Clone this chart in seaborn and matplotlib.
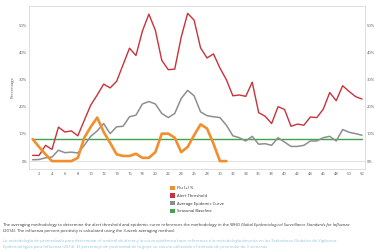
import matplotlib
matplotlib.use("Agg")
import matplotlib.pyplot as plt
import seaborn as sns
import numpy as np
import pandas as pd
from matplotlib.patches import Patch

sns.set_style("white")
plt.rcParams["font.family"] = ["Open Sans", "DejaVu Sans"]

# Werte (in %) pro Kalenderwoche
weeks = list(range(1, 53))
flu_weeks = list(range(1, 32))
flu_pos = [8.1, 5.2, 2.5, 0, 0, 0, 0, 1.2, 8.6, 12.6, 16.0, 10.7, 6.7, 2.5, 1.9, 1.9,
           2.7, 1.2, 1.2, 3.3, 10.1, 10.1, 8.6, 3.3, 5.2, 9.5, 13.5, 12.0, 6.4, 0, 0]
alert = [2.1, 2.1, 5.8, 4.3, 12.5, 10.7, 11.1, 9.3, 15.0, 20.6, 24.3, 28.3, 26.9, 29.3,
         35.4, 41.5, 38.8, 47.8, 54.0, 48.1, 37.0, 33.6, 33.8, 45.5, 54.3, 51.8, 41.6,
         37.9, 39.4, 34.2, 29.9, 24.0, 24.3, 23.8, 29.0, 17.8, 16.5, 13.8, 20.0, 19.0,
         12.8, 13.6, 13.2, 16.2, 16.0, 19.1, 25.2, 22.2, 27.7, 25.6, 23.7, 22.8]
avg_curve = [0.5, 0.6, 1.2, 1.5, 4.0, 3.1, 3.3, 3.0, 5.8, 9.1, 11.1, 13.8, 10.1, 12.6,
             12.8, 16.3, 16.9, 21.0, 21.9, 21.0, 17.5, 16.0, 17.5, 23.0, 26.0, 24.0,
             18.1, 16.7, 16.3, 16.0, 13.2, 9.3, 8.6, 7.4, 9.1, 6.2, 6.4, 5.8, 8.6, 7.0,
             5.4, 5.4, 5.8, 7.4, 7.4, 8.6, 9.1, 7.4, 11.6, 10.6, 10.1, 9.5]
baseline = [8.0] * 52

labels = ["Flu (+) %", "Alert Threshold", "Average Epidemic Curve", "Seasonal Baseline"]
colors = ["#F28E2B", "#C8323A", "#8E8E8E", "#3FA34D"]

df = pd.concat([
    pd.DataFrame({"week": flu_weeks, "value": flu_pos, "series": labels[0]}),
    pd.DataFrame({"week": weeks, "value": alert, "series": labels[1]}),
    pd.DataFrame({"week": weeks, "value": avg_curve, "series": labels[2]}),
    pd.DataFrame({"week": weeks, "value": baseline, "series": labels[3]}),
])

fig = plt.figure(figsize=(3.74, 2.52), dpi=100)
ax = fig.add_axes([29 / 374, 1 - 169 / 252, 336 / 374, 163 / 252])

widths = {labels[0]: 1.9, labels[1]: 1.0, labels[2]: 1.1, labels[3]: 1.0}
for name, col in zip(labels[::-1], colors[::-1]):
    sub = df[df["series"] == name]
    sns.lineplot(data=sub, x="week", y="value", color=col, lw=widths[name], ax=ax)

ax.axhline(0, color="#dddddd", lw=0.6, zorder=0)
ax.set_xlim(0.44, 52.46)
ax.set_ylim(-2.9, 57)
ax.set_xticks(range(2, 53, 2))
ax.set_yticks(range(0, 60, 10))
ax.set_yticklabels([f"{v}%" for v in range(0, 60, 10)])
ax.tick_params(labelsize=3, length=0, pad=2, colors="#555555")
ax.tick_params(axis="y", labelright=True)
ax.tick_params(axis="y", which="both", pad=1.2)
ax.set_xlabel("")
ax.set_ylabel("Percentage", fontsize=3, color="#555555", labelpad=3)
for s in ax.spines.values():
    s.set_color("#d8d8d8")
    s.set_linewidth(0.6)

# Legende
handles = [Patch(facecolor=c, edgecolor="none") for c in colors]
fig.legend(handles, labels, loc="upper left", bbox_to_anchor=(168 / 374, 1 - 184 / 252),
           frameon=False, fontsize=3, handlelength=1.2, handleheight=1.2,
           handletextpad=0.6, labelspacing=0.75, borderaxespad=0)

# Fussnoten
fs = 3.0
t1 = fig.text(3 / 374, 1 - 225 / 252, "The averaging methodology to determine the alert threshold and "
              "epidemic curve references the methodology in the WHO ", fontsize=fs,
              color="#333333", va="center")
fig.canvas.draw()
bb = t1.get_window_extent()
fig.text(bb.x1 / fig.bbox.width, 1 - 225 / 252,
         "Global Epidemiological Surveillance Standards for Influenza", fontsize=fs,
         style="italic", color="#333333", va="center")
fig.text(3 / 374, 1 - 231 / 252, "(2014). The influenza percent positivity is calculated "
         "using the 3-week averaging method.", fontsize=fs, color="#333333", va="center")
fig.text(3 / 374, 1 - 241 / 252, "La metodología de promediado para determinar el umbral de "
         "alerta y la curva epidémica hace referencia a la metodología descrita en los "
         "Estándares Globales de Vigilancia", fontsize=fs, color="#8CC4E3", va="center")
fig.text(3 / 374, 1 - 247 / 252, "Epidemiológica para Influenza (2014). El porcentaje de "
         "positividad de la gripe se calcula utilizando el método de promedio de 3 semanas.",
         fontsize=fs, color="#8CC4E3", va="center")

fig.savefig("out.png", dpi=100)
